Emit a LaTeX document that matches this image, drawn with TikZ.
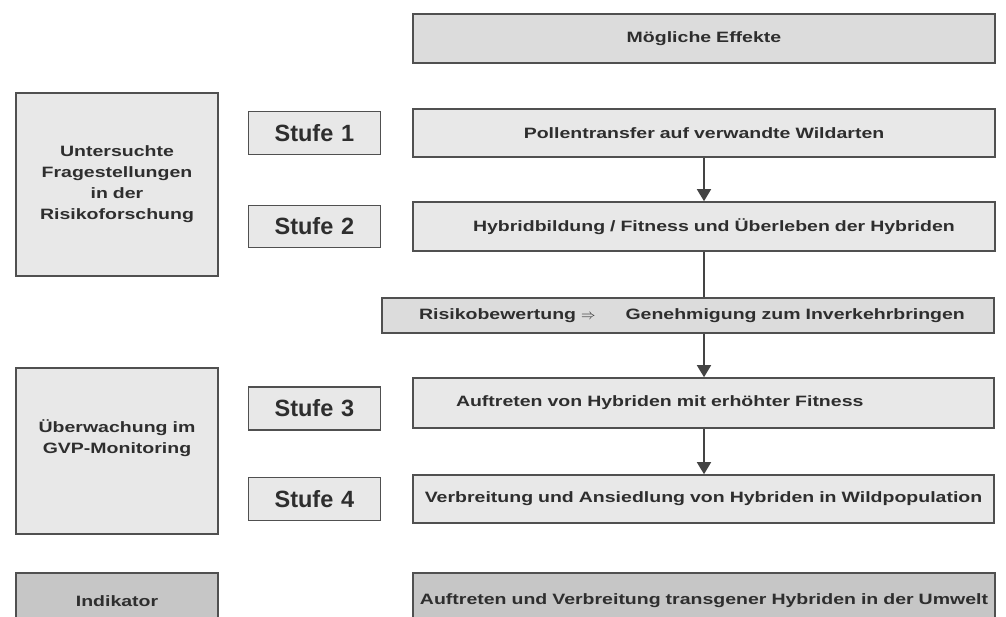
\documentclass[tikz,border=0pt]{standalone}
\usepackage{fontspec}
\newfontfamily\widefont[FakeStretch=1.3]{Liberation Sans}
\newfontfamily\stagefont{Liberation Sans}
\usepackage{xcolor}
\definecolor{boxGray}{HTML}{E8E8E8}
\definecolor{headGray}{HTML}{DCDCDC}
\definecolor{indicatorGray}{HTML}{C6C6C6}
\definecolor{lineGray}{HTML}{505050}
\definecolor{darkText}{HTML}{2E2E2E}
\usepackage{tikz}
\usetikzlibrary{
    arrows.meta,
    positioning
}
\tikzset{
    % Base style for all boxes
    box base/.style={
        font=\widefont\bfseries\fontsize{15}{21}\selectfont,
        rectangle,
        draw=lineGray,
        line width=1.6pt,
        fill=boxGray,
        text=darkText,
        align=center,
        inner xsep=0pt,
        inner ysep=2pt,
    },
    % Effect boxes - wide column on the right
    effect/.style={
        box base,
        text width=582pt,
        minimum height=49pt,
    },
    % Header and risk box - slightly darker
    header/.style={
        effect,
        fill=headGray,
    },
    % Question boxes - left column
    question/.style={
        box base,
        text width=202pt,
    },
    % Stage labels - larger plain font
    stage/.style={
        box base,
        font=\stagefont\bfseries\fontsize{23.5}{28}\selectfont,
        text width=132pt,
        minimum height=43pt,
    },
    % Indicator row - dark gray
    indicator/.style={
        fill=indicatorGray,
        minimum height=56pt,
    },
    % Arrow with filled triangle tip
    arrow/.style={
        -{Triangle[length=12pt, width=14pt]},
        line width=1.6pt,
        draw=lineGray!85!black,
    },
    % Plain connecting line
    connector/.style={
        line width=1.6pt,
        draw=lineGray!85!black,
    },
}

\begin{document}
\begin{tikzpicture}[x=1pt, y=-1pt]
    \useasboundingbox (0,0) rectangle (1006,617);
    \clip (0,0) rectangle (1006,617);

    % right column
    \node (effects) [header] at (704,38.5) {Mögliche Effekte};
    \node (pollen) [effect, minimum height=48pt] at (704,133) {Pollentransfer auf verwandte Wildarten};
    \node (hybrid) [effect, align=left] at (704,226.5) {\hspace*{60pt}Hybridbildung / Fitness und Überleben der Hybriden};
    \node (risk) [header, text width=612pt, minimum height=35pt, align=left] at (688,315.5) {\hspace*{37pt}Risikobewertung $\Rightarrow$\hspace{30pt}Genehmigung zum Inverkehrbringen};
    \node (occur) [effect, text width=581pt, minimum height=50pt, align=left] at (703.5,403) {\hspace*{43pt}Auftreten von Hybriden mit erhöhter Fitness};
    \node (spread) [effect, text width=581pt, minimum height=48pt] at (703.5,499) {Verbreitung und Ansiedlung von Hybriden in Wildpopulation};
    \node (environment) [effect, indicator] at (704,601) {Auftreten und Verbreitung transgener Hybriden in der Umwelt};

    % left column
    \node (research) [question, minimum height=183pt] at (117,184.5) {Untersuchte\\Fragestellungen\\in der\\Risikoforschung};
    \node (monitoring) [question, minimum height=166pt] at (117,451) {Überwachung im\\GVP-Monitoring\\[7pt]\mbox{}};
    \node (indicator) [question, indicator] at (117,601) {Indikator};

    % stages
    \node (stage1) [stage, left=31pt of pollen] {Stufe 1};
    \node (stage2) [stage, minimum height=42pt, left=31pt of hybrid] {Stufe 2};
    \node (stage3) [stage, left=31pt of occur, yshift=-5.5pt] {Stufe 3};
    \node (stage4) [stage, left=31pt of spread] {Stufe 4};

    \draw [arrow] (pollen) -- (hybrid);
    \draw [connector] (hybrid.south) -- (hybrid.south |- risk.north);
    \draw [arrow] (hybrid.south |- risk.south) -- (occur.north -| hybrid.south);
    \draw [arrow] (occur.south -| hybrid.south) -- (spread.north -| hybrid.south);
\end{tikzpicture}
\end{document}
